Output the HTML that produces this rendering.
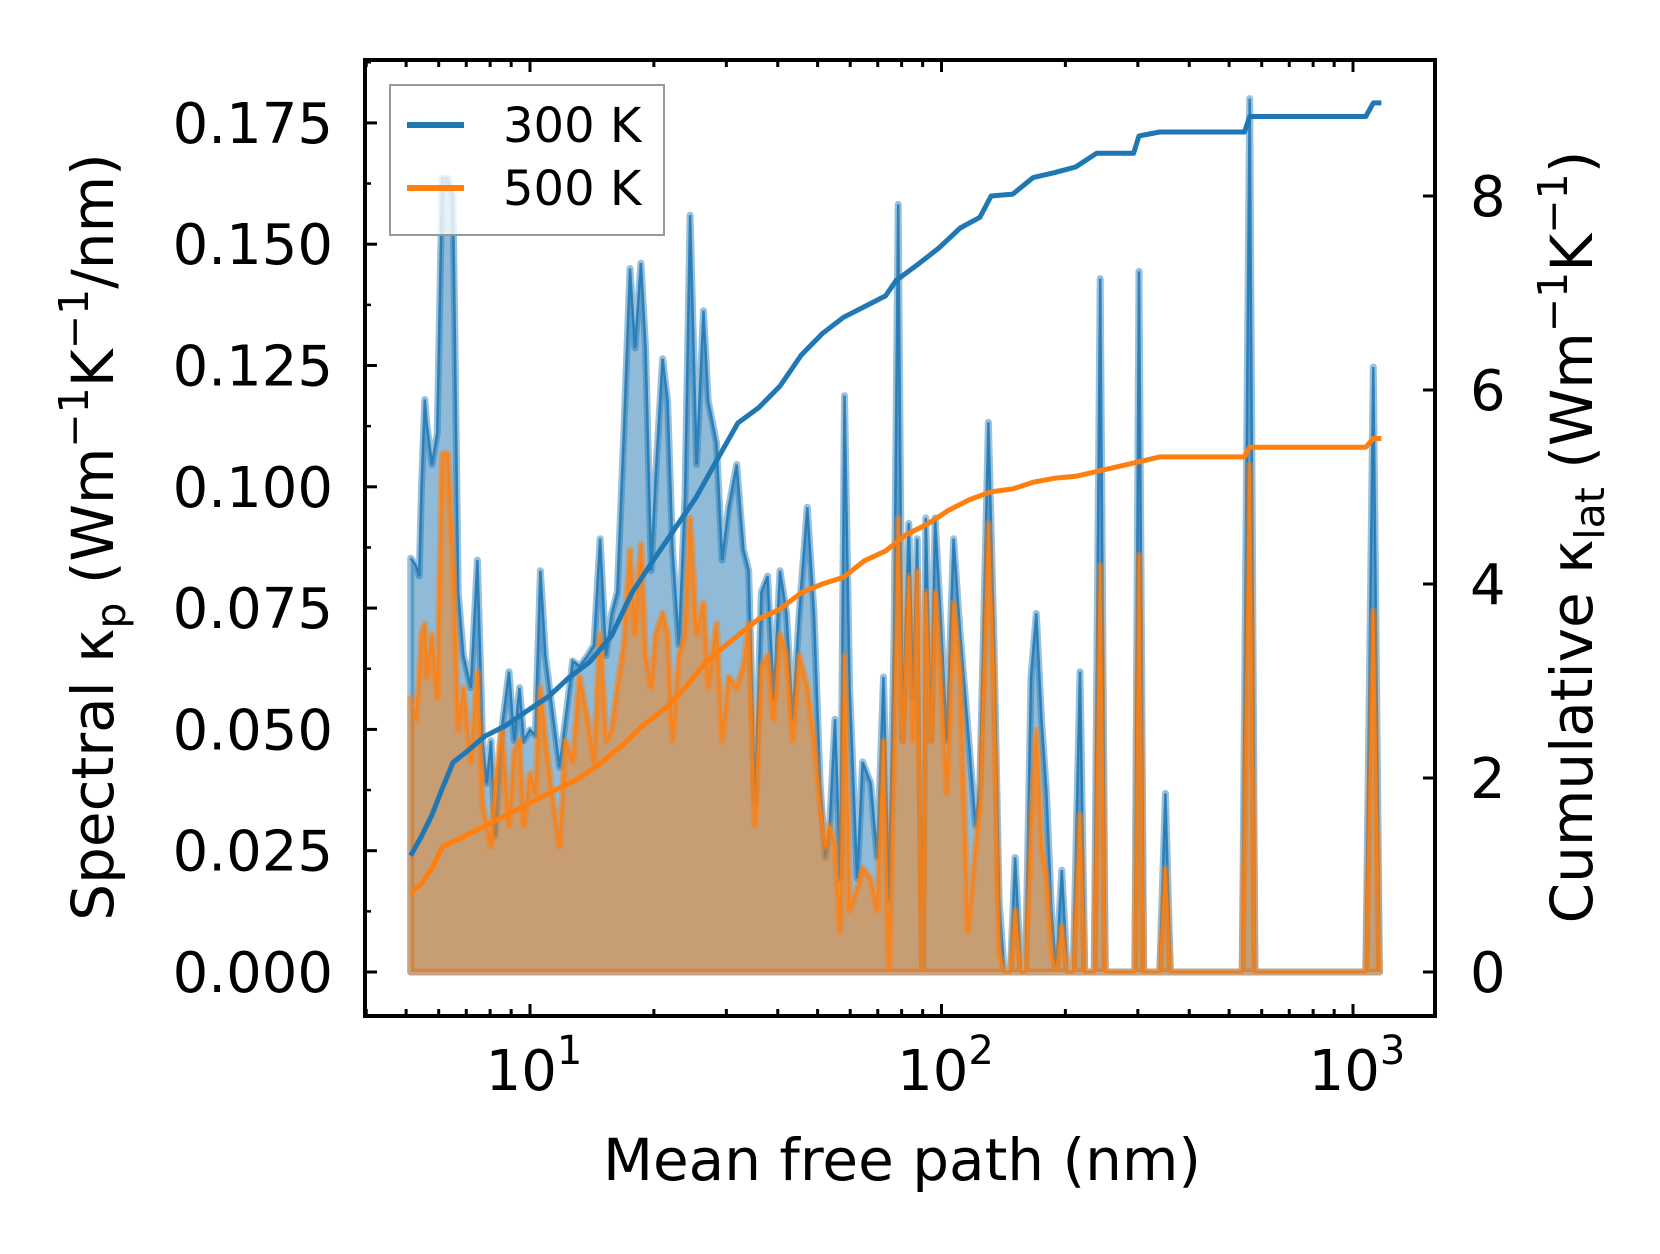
<!DOCTYPE html>
<html><head><meta charset="utf-8">
<style>
html,body{margin:0;padding:0;background:#fff;}
svg{display:block;font-family:"DejaVu Sans","Liberation Sans",sans-serif;}
</style></head>
<body>
<svg id="chart" width="1660" height="1254" viewBox="0 0 1660 1254" xmlns="http://www.w3.org/2000/svg">
<g id="fills"></g>
<g id="lines"></g>
<g id="axes"></g>
<g id="legend"></g>
</svg>
<script>
// shared mean free path grid (nm) for spectral series
const mfpSpectral = [5.13,5.28,5.38,5.45,5.55,5.61,5.78,5.95,6.12,6.31,6.50,6.69,6.89,7.18,7.45,7.67,7.85,8.04,8.23,8.53,8.89,9.16,9.43,9.66,10,10.3,10.6,10.9,11.4,11.8,12.2,12.7,13.2,13.8,14.3,14.8,15.3,15.8,16.3,16.9,17.5,18.0,18.6,19.1,19.7,20.2,21.0,21.6,22.2,23.0,23.8,24.5,25.4,26.4,27.1,28.4,29.3,30.4,31.8,33.0,34.0,35.2,36.5,37.8,39.1,40.5,42.0,43.5,45.1,47.2,49.0,50.7,52.2,53.5,55.1,56.8,58.1,59.8,62.4,64.3,67.3,69.8,72.3,74.5,76.7,78.5,80.4,83.3,85.3,87.3,89.9,91.6,94.3,96.5,100,103,107,111,116,121,124,130,134,138,142,147,151,156,160,165,170,175,180,185,190,196,202,209,217,223,235,243,250,288,295,302,310,339,350,360,538,561,578,1074,1120,1160];
const spectral300 = [0.0853,0.0838,0.0816,0.100,0.118,0.113,0.1046,0.111,0.1636,0.1636,0.160,0.0783,0.0652,0.0586,0.0849,0.0477,0.0389,0.0477,0.028,0.0499,0.0619,0.0477,0.0586,0.0477,0.0499,0.0488,0.0827,0.0652,0.0521,0.0422,0.0521,0.0641,0.063,0.0652,0.0674,0.0893,0.0652,0.0739,0.0783,0.111,0.145,0.1286,0.1461,0.1286,0.0827,0.1024,0.1264,0.1177,0.0871,0.0674,0.098,0.156,0.1046,0.1363,0.1177,0.109,0.0849,0.0958,0.1046,0.0871,0.0827,0.0346,0.0783,0.0816,0.0564,0.0827,0.0739,0.0521,0.0739,0.0958,0.0739,0.0389,0.0236,0.0302,0.0521,0.0193,0.1188,0.0586,0.0193,0.0433,0.0389,0.0236,0.0608,0.0149,0.0696,0.1582,0.0477,0.0925,0.0564,0.0893,0,0.0936,0.0477,0.0936,0.0696,0.0477,0.0893,0.0696,0.0499,0.0302,0.0389,0.1133,0.0696,0.0149,0,0,0.0236,0,0,0.0608,0.0739,0.0521,0.0368,0.0127,0,0.021,0,0,0.0619,0,0,0.1429,0,0,0,0.1444,0,0,0.0368,0,0,0.18,0,0,0.1247,0];
const spectral500 = [0.0564,0.0521,0.0608,0.0696,0.0718,0.0608,0.0696,0.0564,0.1068,0.1068,0.0849,0.0499,0.0586,0.0433,0.0619,0.0346,0.0302,0.0258,0.0389,0.0499,0.0302,0.0455,0.0477,0.0302,0.0411,0.0368,0.0586,0.0477,0.0346,0.0258,0.0477,0.0433,0.0608,0.0521,0.0433,0.0696,0.0477,0.0499,0.0586,0.0674,0.0871,0.0696,0.0882,0.0652,0.0586,0.0696,0.0739,0.0696,0.0477,0.0652,0.0696,0.0936,0.0696,0.0761,0.0586,0.0718,0.0477,0.0608,0.0586,0.063,0.0718,0.0302,0.063,0.0652,0.0521,0.0696,0.0652,0.0477,0.0652,0.0586,0.0477,0.0346,0.0258,0.0302,0.0258,0.0083,0.0652,0.0127,0.0171,0.0214,0.0193,0.0127,0.0477,0,0.0477,0.0936,0.0477,0.0816,0.0477,0.0827,0,0.0783,0.0477,0.0783,0.0586,0.0368,0.0761,0.0608,0.0083,0.0258,0.0346,0.0925,0.0608,0.0039,0,0,0.0127,0,0,0.0302,0.0499,0.0258,0.0193,0.0039,0,0.0094,0,0,0.0324,0,0,0.0838,0,0,0,0.086,0,0,0.0214,0,0,0.1046,0,0,0.0744,0];
// cumulative series
const mfpCum300 = [5.13,5.45,5.78,6.12,6.50,7.10,7.76,8.73,9.82,11.1,12.4,14.0,15.8,17.7,19.9,22.4,25.3,28.4,32.0,36.0,40.5,45.6,51.3,57.8,65.0,73.1,77.6,87.3,98.3,111,124,132,149,167,188,212,238,293,302,339,545,561,1074,1120,1172];
const cum300 = [1.20,1.40,1.62,1.89,2.16,2.29,2.43,2.54,2.69,2.84,3.03,3.20,3.47,3.91,4.24,4.56,4.89,5.27,5.66,5.82,6.04,6.36,6.58,6.75,6.86,6.97,7.13,7.29,7.46,7.67,7.78,8.00,8.02,8.19,8.24,8.30,8.44,8.44,8.62,8.66,8.66,8.82,8.82,8.96,8.96];
const mfpCum500 = [5.13,5.45,5.78,6.12,6.50,7.31,8.23,9.26,10.4,11.7,13.2,14.9,16.7,18.8,21.2,23.8,26.8,32.0,36.0,40.5,45.6,51.3,57.8,65.0,73.1,82.2,92.6,104,117,132,149,167,188,212,238,302,339,545,561,1074,1120,1172];
const cum500 = [0.81,0.91,1.07,1.29,1.34,1.45,1.56,1.67,1.78,1.89,2.00,2.16,2.33,2.54,2.71,2.93,3.20,3.47,3.64,3.74,3.91,4.00,4.07,4.24,4.34,4.51,4.62,4.76,4.87,4.95,4.98,5.05,5.09,5.11,5.16,5.26,5.31,5.31,5.41,5.41,5.50,5.50];
const leftTicks = [0,0.025,0.05,0.075,0.1,0.125,0.15,0.175];
const leftTickLabels = ["0.000","0.025","0.050","0.075","0.100","0.125","0.150","0.175"];
const rightTicks = [0,2,4,6,8];
const xDecades = [1,2,3];

const NS="http://www.w3.org/2000/svg";
const L=365,R=1435,T=60,B=1016;
function xs(m){return 530+(Math.log10(m)-1)*411.5;}
function yl(v){return 972-v/0.025*121.3;}
function yr(v){return 972-v*97;}
function mk(tag,attrs,parent){const e=document.createElementNS(NS,tag);for(const k in attrs)e.setAttribute(k,attrs[k]);parent.appendChild(e);return e;}
const fills=document.getElementById('fills'),lines=document.getElementById('lines'),axes=document.getElementById('axes'),legend=document.getElementById('legend');

function spectral(vals,color,name){
  let d='M'+xs(mfpSpectral[0])+','+yl(0);
  vals.forEach((v,i)=>{d+='L'+xs(mfpSpectral[i]).toFixed(1)+','+yl(v).toFixed(1);});
  d+='L'+xs(mfpSpectral[mfpSpectral.length-1])+','+yl(0)+'Z';
  const f=mk('path',{d:d,fill:color,'fill-opacity':0.5,stroke:color,'stroke-opacity':0.45,'stroke-width':7,'stroke-linejoin':'round'},fills);
  
  
  let d2='';
  vals.forEach((v,i)=>{d2+=(i?'L':'M')+xs(mfpSpectral[i]).toFixed(1)+','+yl(v).toFixed(1);});
  const l=mk('path',{d:d2,fill:'none',stroke:color,'stroke-width':2.5,'stroke-opacity':0.85},fills);
  
  
}
spectral(spectral300,'#1f77b4','spectral-300k');
spectral(spectral500,'#ff7f0e','spectral-500k');

function cum(xsArr,vals,color,name){
  let d='';
  vals.forEach((v,i)=>{d+=(i?'L':'M')+xs(xsArr[i]).toFixed(1)+','+yr(v).toFixed(1);});
  const p=mk('path',{d:d,fill:'none',stroke:color,'stroke-width':5,'stroke-linejoin':'round'},lines);
  
  
}
cum(mfpCum300,cum300,'#1f77b4','cumulative-300k');
cum(mfpCum500,cum500,'#ff7f0e','cumulative-500k');

const fr=mk('rect',{x:L,y:T,width:R-L,height:B-T,fill:'none',stroke:'#000','stroke-width':4},axes);



leftTicks.forEach((v,i)=>{
  const y=yl(v);
  mk('line',{x1:L,x2:L+12,y1:y,y2:y,stroke:'#000','stroke-width':3},axes);
  const t=mk('text',{x:333,y:y+20,'text-anchor':'end','font-size':56},axes);
  t.textContent=leftTickLabels[i];
  
  
});
for(let v=-0.0125;v<0.19;v+=0.0125){const y=yl(v);if(y>T&&y<B)mk('line',{x1:L,x2:L+6,y1:y,y2:y,stroke:'#000','stroke-width':2.5},axes);}
rightTicks.forEach(v=>{
  const y=yr(v);
  mk('line',{x1:R-12,x2:R,y1:y,y2:y,stroke:'#000','stroke-width':3},axes);
  const t=mk('text',{x:1470,y:y+20,'font-size':56},axes);
  t.textContent=String(v);
  
  
});
for(let e=0;e<=3;e++){for(let k=1;k<10;k++){
  const x=xs(k*Math.pow(10,e));if(x<L||x>R)continue;
  const len=k===1?12:7;
  mk('line',{x1:x,x2:x,y1:B,y2:B-len,stroke:'#000','stroke-width':3},axes);
  mk('line',{x1:x,x2:x,y1:T,y2:T+len,stroke:'#000','stroke-width':3},axes);
}}
xDecades.forEach(e=>{
  const x=xs(Math.pow(10,e));
  const t=mk('text',{x:x+4,y:1090,'text-anchor':'middle','font-size':56},axes);
  t.textContent='10';
  const s=mk('tspan',{dy:-26,'font-size':40},t);
  s.textContent=String(e);
  
  
});
</script>
<svg style="position:absolute;left:0;top:0" width="1660" height="1254" xmlns="http://www.w3.org/2000/svg">
<text x="902" y="1180" text-anchor="middle" font-size="58" font-family="DejaVu Sans, Liberation Sans, sans-serif">Mean free path (nm)</text>
<text transform="translate(113,537) rotate(-90)" text-anchor="middle" font-size="58" font-family="DejaVu Sans, Liberation Sans, sans-serif">Spectral κ<tspan dy="12" font-size="41">p</tspan><tspan dy="-12"> (Wm</tspan><tspan dy="-25" font-size="41">−1</tspan><tspan dy="25">K</tspan><tspan dy="-25" font-size="41">−1</tspan><tspan dy="25">/nm)</tspan></text>
<text transform="translate(1592,537) rotate(-90)" text-anchor="middle" font-size="58" font-family="DejaVu Sans, Liberation Sans, sans-serif">Cumulative κ<tspan dy="12" font-size="41">lat</tspan><tspan dy="-12"> (Wm</tspan><tspan dy="-25" font-size="41">−1</tspan><tspan dy="25">K</tspan><tspan dy="-25" font-size="41">−1</tspan><tspan dy="25">)</tspan></text>
<g>
<rect x="390" y="85" width="274" height="150" fill="#fff" fill-opacity="0.8" stroke="#999" stroke-width="2"/>
<line x1="407" x2="464" y1="125" y2="125" stroke="#1f77b4" stroke-width="6"/>
<text x="503" y="142" font-size="48" font-family="DejaVu Sans, Liberation Sans, sans-serif">300 K</text>
<line x1="407" x2="464" y1="188" y2="188" stroke="#ff7f0e" stroke-width="6"/>
<text x="503" y="205" font-size="48" font-family="DejaVu Sans, Liberation Sans, sans-serif">500 K</text>
</g>
</svg>
</body></html>
